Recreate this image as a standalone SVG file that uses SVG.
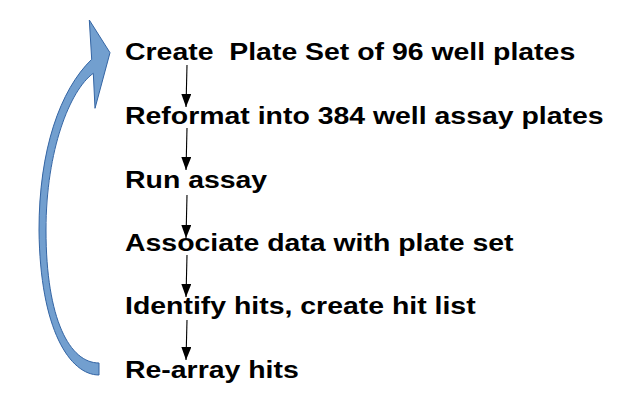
<svg xmlns="http://www.w3.org/2000/svg" width="632" height="413" viewBox="0 0 632 413">
<defs>
<style>
.t{font-family:"Liberation Sans",Arial,sans-serif;font-weight:bold;font-size:24px;fill:#000;white-space:pre}
.c{stroke:#000;stroke-width:1.1;fill:none;marker-end:url(#ah)}
</style>
<marker id="ah" viewBox="0 0 13 10" refX="13" refY="5" markerWidth="13" markerHeight="10" markerUnits="userSpaceOnUse" orient="auto">
<path d="M0,0 L13,5 L0,10 Z" fill="#000"/>
</marker>
</defs>
<rect width="632" height="413" fill="#fff"/>
<g id="loop-arrow">
<path d="M99,375 C70,375 40,330 39,230 C39,150 60,90 91.7,59.3 L89.3,20 L110,52.7 L95,108.3 L93.3,73.3 C70,90 46,150 46,230 C46,320 70,363 99,363 Z" fill="#729fcf" stroke="#3465a4" stroke-width="1"/>
</g>
<g id="step1"><text class="t" xml:space="preserve" transform="translate(125,59.5) scale(1.185,1)">Create  Plate Set of 96 well plates</text></g>
<g id="step2"><text class="t" transform="translate(125,124) scale(1.185,1)">Reformat into 384 well assay plates</text></g>
<g id="step3"><text class="t" transform="translate(125,188) scale(1.185,1)">Run assay</text></g>
<g id="step4"><text class="t" transform="translate(125,251) scale(1.185,1)">Associate data with plate set</text></g>
<g id="step5"><text class="t" transform="translate(125,314) scale(1.185,1)">Identify hits, create hit list</text></g>
<g id="step6"><text class="t" transform="translate(125,378) scale(1.185,1)">Re-array hits</text></g>
<g id="connectors">
<line class="c" x1="187" y1="65" x2="186" y2="107"/>
<line class="c" x1="187" y1="128" x2="186" y2="170"/>
<line class="c" x1="187" y1="195" x2="186" y2="238"/>
<line class="c" x1="187" y1="255" x2="186" y2="297"/>
<line class="c" x1="187" y1="320" x2="186" y2="360"/>
</g>
</svg>
